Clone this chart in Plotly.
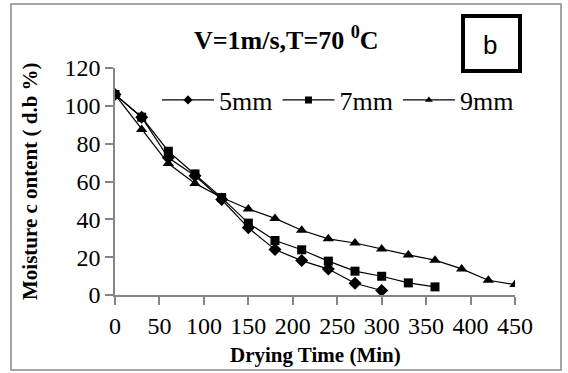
import plotly.graph_objects as go

# ---- data ----
time_5mm = [0, 30, 60, 90, 120, 150, 180, 210, 240, 270, 300]
mc_5mm = [106, 94, 72.5, 63, 50.5, 35.5, 24, 18.2, 13.7, 6.2, 2.4]

time_7mm = [0, 30, 60, 90, 120, 150, 180, 210, 240, 270, 300, 330, 360]
mc_7mm = [106, 94, 76, 64, 51.5, 38, 28.8, 23.9, 17.9, 12.6, 9.9, 6.4, 4.3]

time_9mm = [0, 30, 60, 90, 120, 150, 180, 210, 240, 270, 300, 330, 360, 390, 420, 450]
mc_9mm = [106, 87.5, 69.5, 59, 51.5, 45.5, 40.5, 34.2, 29.7, 27.5, 24.3, 21.2, 18.4, 13.8, 7.8, 5.5]

series_names = ["5mm", "7mm", "9mm"]
series_symbols = ["diamond", "square", "triangle-up"]

x_ticks = [0, 50, 100, 150, 200, 250, 300, 350, 400, 450]
y_ticks = [0, 20, 40, 60, 80, 100, 120]

SERIF = "Liberation Serif"
AXIS_GRAY = "#868686"

fig = go.Figure()
series = [(time_5mm, mc_5mm), (time_7mm, mc_7mm), (time_9mm, mc_9mm)]
plot_sizes = [10, 9, 10]
for (xs, ys), name, sym, sz in zip(series, series_names, series_symbols, plot_sizes):
    fig.add_trace(go.Scatter(x=xs, y=ys, name=name, mode="lines+markers", legendgroup=name,
                             showlegend=False,
                             line=dict(color="black", width=1.2),
                             marker=dict(symbol=sym, size=sz, color="black")))
# legend entries (smaller markers, as in the original legend)
for name, sym in zip(series_names, series_symbols):
    fig.add_trace(go.Scatter(x=[None], y=[None], name=name, mode="lines+markers", legendgroup=name,
                             showlegend=True,
                             line=dict(color="black", width=1.2),
                             marker=dict(symbol=sym, size=7, color="black")))

W, H = 568, 373
L, R, T, B = 115, 53, 68, 78
pw, ph = W - L - R, H - T - B

def px_x(p):
    return (p - L) / pw

def px_y(p):
    return (H - B - p) / ph

fig.update_layout(
    width=W, height=H,
    margin=dict(l=L, r=R, t=T, b=B, pad=0),
    paper_bgcolor="white", plot_bgcolor="white",
    font=dict(family=SERIF, color="black", size=24),
    showlegend=True,
    legend=dict(orientation="h", x=px_x(157), y=px_y(100), xanchor="left", yanchor="middle",
                font=dict(family=SERIF, size=26, color="black"),
                bgcolor="rgba(0,0,0,0)", itemwidth=52, tracegroupgap=0),
    xaxis=dict(range=[0, 450], tickvals=x_ticks, ticktext=[str(v) for v in x_ticks],
               showgrid=False, zeroline=False, showline=True, linecolor=AXIS_GRAY, linewidth=1.5,
               ticks="outside", ticklen=8, tickwidth=1.5, tickcolor=AXIS_GRAY,
               tickfont=dict(family=SERIF, size=24, color="black")),
    yaxis=dict(range=[0, 120], tickvals=y_ticks, ticktext=[str(v) for v in y_ticks],
               showgrid=False, zeroline=False, showline=True, linecolor=AXIS_GRAY, linewidth=1.5,
               ticks="outside", ticklen=8, tickwidth=1.5, tickcolor=AXIS_GRAY,
               tickfont=dict(family=SERIF, size=24, color="black")),
    shapes=[
        dict(type="rect", xref="paper", yref="paper",
             x0=px_x(11), x1=px_x(561), y0=px_y(370), y1=px_y(4),
             line=dict(color="#898989", width=1.5), fillcolor="rgba(0,0,0,0)", layer="below"),
        dict(type="rect", xref="paper", yref="paper",
             x0=px_x(463), x1=px_x(520), y0=px_y(71), y1=px_y(16),
             line=dict(color="black", width=4), fillcolor="white"),
    ],
    annotations=[
        dict(text="<b>V=1m/s,T=70 <sup>0</sup>C</b>", xref="paper", yref="paper",
             x=px_x(286), y=px_y(38), xanchor="center", yanchor="middle", showarrow=False,
             font=dict(family=SERIF, size=26, color="black")),
        dict(text="b", xref="paper", yref="paper",
             x=px_x(490), y=px_y(45), xanchor="center", yanchor="middle", showarrow=False,
             font=dict(family="Liberation Sans", size=26, color="black")),
        dict(text="<b>Drying Time (Min)</b>", xref="paper", yref="paper",
             x=px_x(315), y=px_y(355), xanchor="center", yanchor="middle", showarrow=False,
             font=dict(family=SERIF, size=21, color="black")),
        dict(text="<b>Moisture c ontent ( d.b %)</b>", xref="paper", yref="paper",
             x=px_x(30), y=px_y(181), xanchor="center", yanchor="middle", showarrow=False,
             textangle=-90, font=dict(family=SERIF, size=21, color="black")),
    ],
)

fig.write_html("out.html", config={"displayModeBar": False},
               post_script="document.body.style.margin='0';document.body.style.overflow='hidden';")
